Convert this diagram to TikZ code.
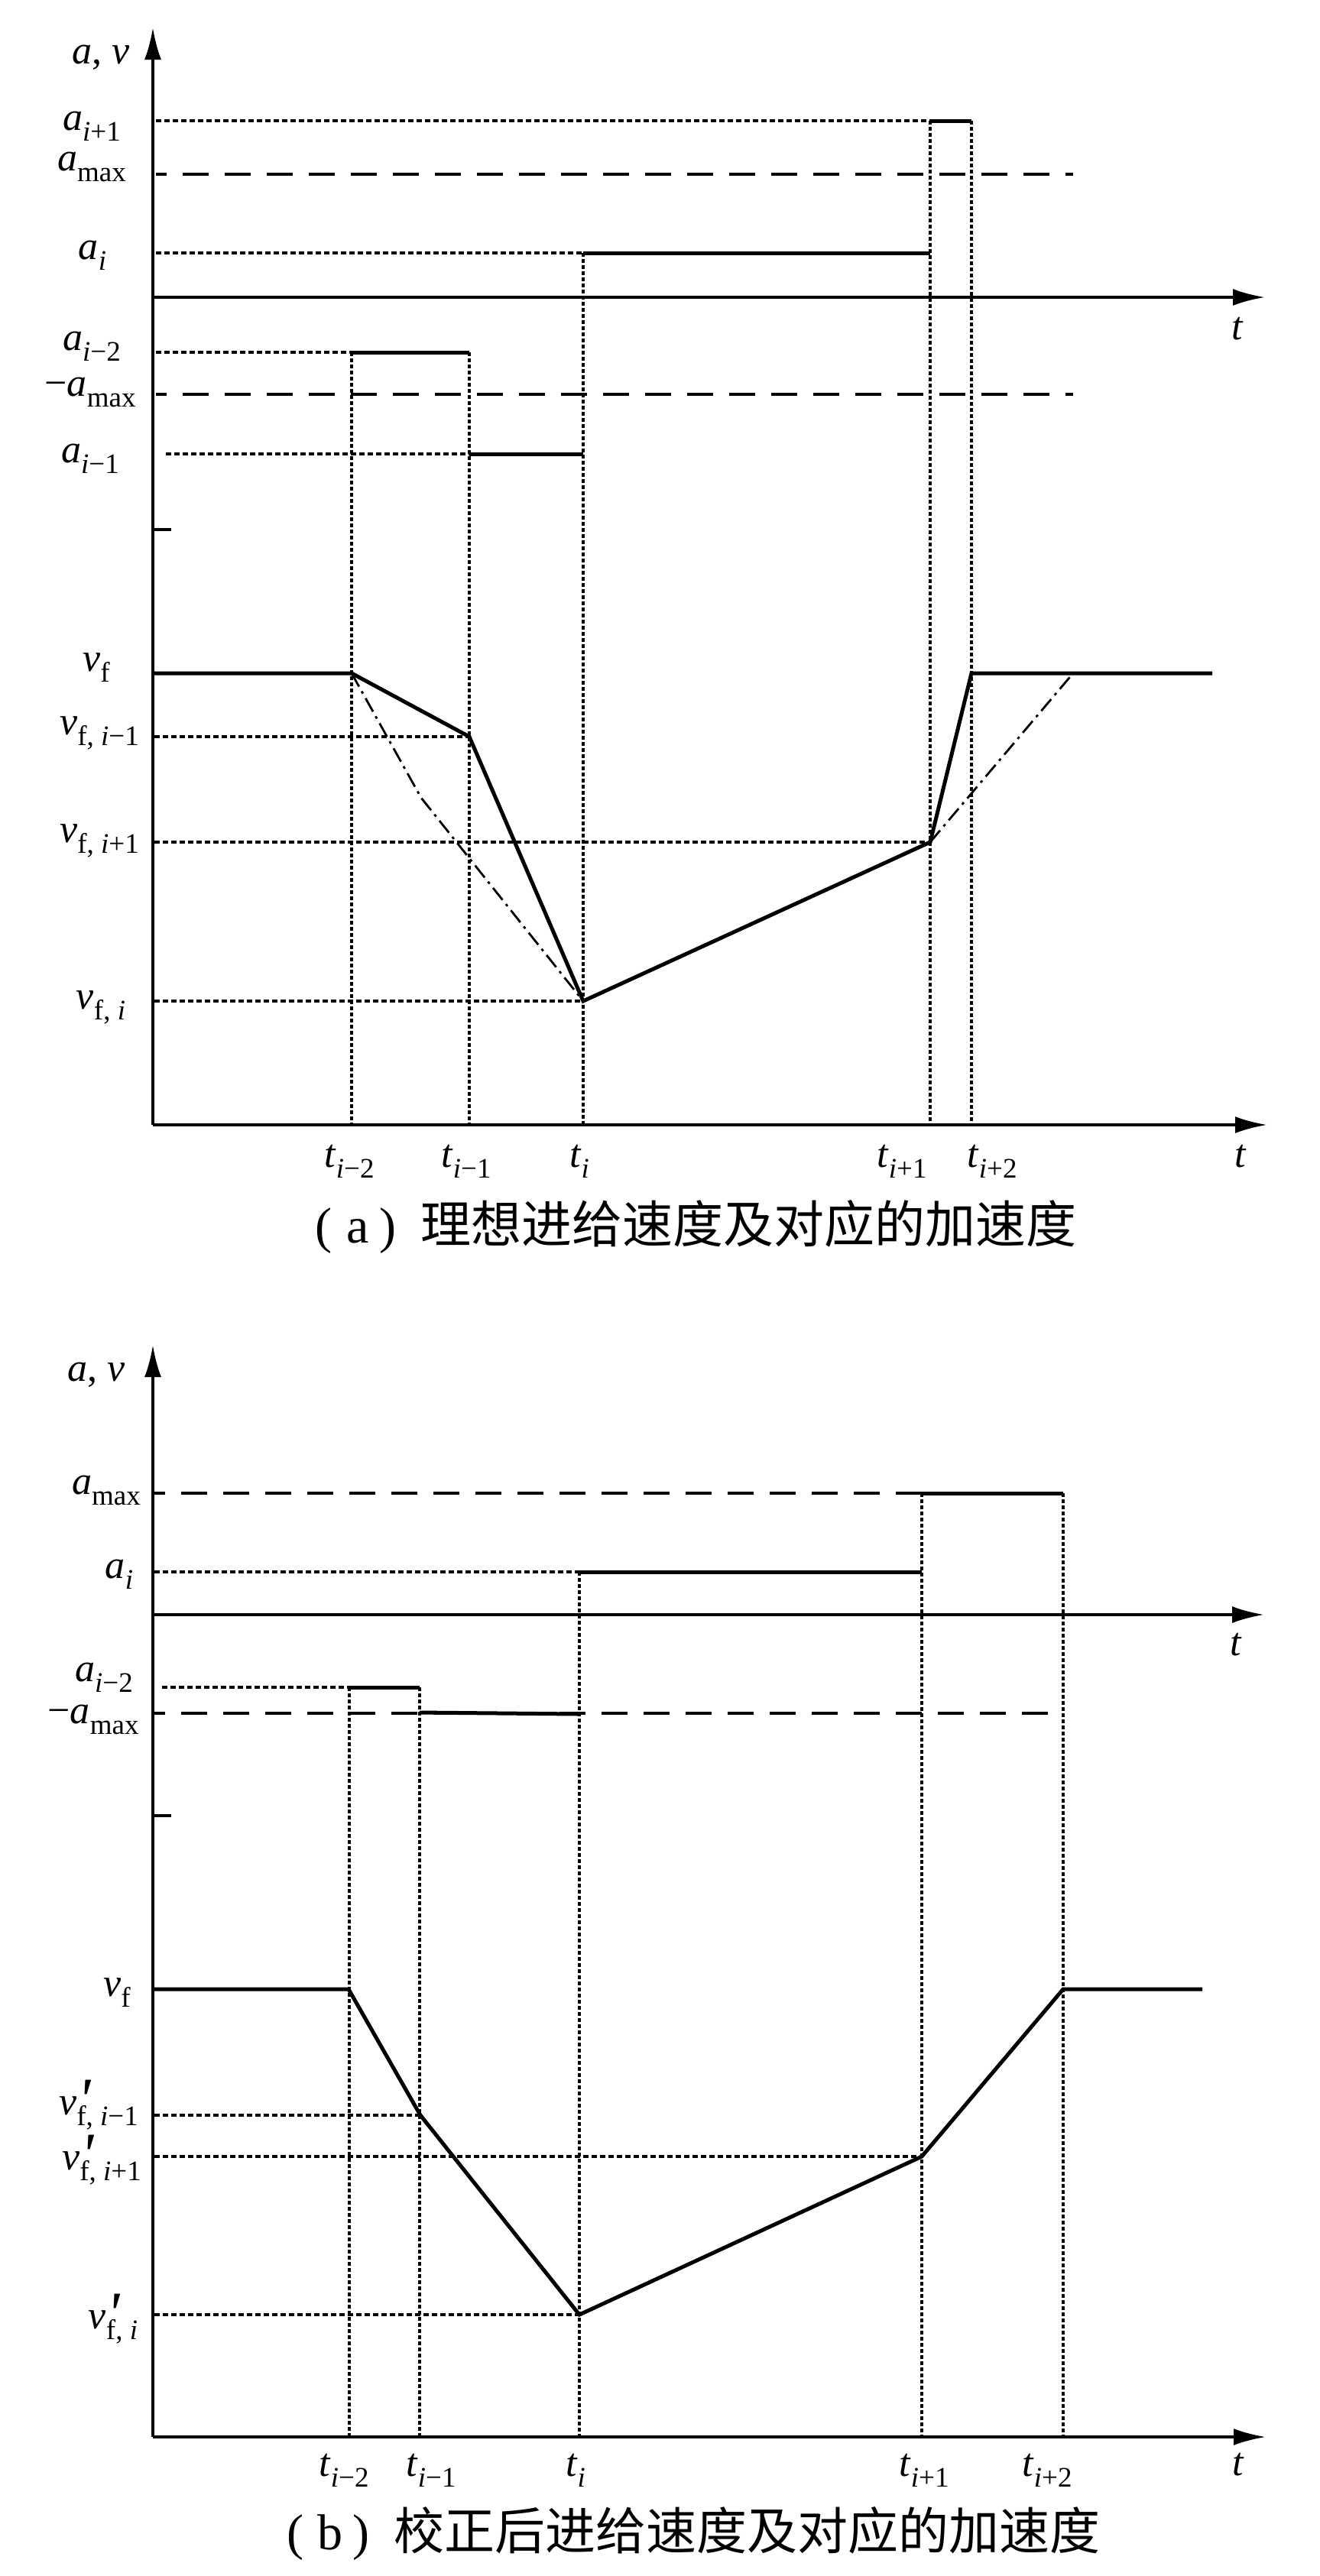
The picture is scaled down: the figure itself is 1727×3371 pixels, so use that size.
\documentclass[tikz,border=0pt]{standalone}
\usepackage{fontspec}
\setmainfont{Liberation Serif}
\newfontfamily\cjk{Noto Sans CJK SC}
\usetikzlibrary{arrows.meta}
\newcommand{\Sb}[1]{\raisebox{-0.28em}{\fontsize{37}{37}\selectfont #1}}
\newcommand{\pmk}{\rlap{\kern1pt\raisebox{-7pt}{\fontsize{80}{80}\selectfont\itshape\textquotesingle}}}
\begin{document}
\begin{tikzpicture}[x=1pt,y=-1pt,
  lbl/.style={inner sep=0pt,anchor=base,font=\fontsize{52}{60}\selectfont},
  captxt/.style={inner sep=0pt,anchor=base west,font=\fontsize{66}{70}\selectfont},
  axis/.style={line width=4pt,-{Latex[length=42pt,width=22pt]}},
  axisl/.style={line width=4pt},
  stepl/.style={line width=5pt},
  velo/.style={line width=5pt,line join=miter},
  vdot/.style={line width=4.4pt,dash pattern=on 4.5pt off 3.5pt},
  hdot/.style={line width=3.2pt,dash pattern=on 7pt off 4pt},
  ldash/.style={line width=4pt,dash pattern=on 34pt off 21pt,dash phase=20pt},
  ddot/.style={line width=2.8pt,dash pattern=on 20pt off 7pt on 3.5pt off 7pt}]
\useasboundingbox (0,0) rectangle (1727,3371);
% ================= panel (a) =================
\coordinate (A0) at (200,1472);
\coordinate (Atop) at (200,36);
\coordinate (AtL) at (200,389);
\coordinate (AtR) at (1655,389);
\coordinate (AbR) at (1658,1472);
\draw[axis] (A0) -- (Atop);
\draw[axis] (AtL) -- (AtR);
\draw[axis] (A0) -- (AbR);
\coordinate (Atk1) at (200,693); \coordinate (Atk2) at (224,693);
\draw[axisl] (Atk1) -- (Atk2);
% acceleration levels
\coordinate (a1L) at (204,158); \coordinate (a1a) at (1217,158); \coordinate (a1b) at (1271,158);
\coordinate (amL) at (204,228); \coordinate (amR) at (1404,228);
\coordinate (aiL) at (204,331); \coordinate (aia) at (763,331); \coordinate (aib) at (1217,331);
\coordinate (a2L) at (204,461); \coordinate (a2a) at (460,461); \coordinate (a2b) at (614,461);
\coordinate (nmL) at (204,516); \coordinate (nmR) at (1404,516);
\coordinate (a3L) at (217,594); \coordinate (a3a) at (614,594); \coordinate (a3b) at (763,594);
\draw[hdot] (a1L) -- (a1a); \draw[stepl] (a1a) -- (a1b);
\draw[ldash] (amL) -- (amR);
\draw[hdot] (aiL) -- (aia); \draw[stepl] (aia) -- (aib);
\draw[hdot] (a2L) -- (a2a); \draw[stepl] (a2a) -- (a2b);
\draw[ldash] (nmL) -- (nmR);
\draw[hdot] (a3L) -- (a3a); \draw[stepl] (a3a) -- (a3b);
% vertical guides
\coordinate (g1b) at (460,1472); \coordinate (g2b) at (614,1472); \coordinate (g3b) at (763,1472);
\coordinate (g4t) at (1217,158); \coordinate (g4b) at (1217,1472);
\coordinate (g5t) at (1271,158); \coordinate (g5b) at (1271,1472);
\draw[vdot] (a2a) -- (g1b);
\draw[vdot] (a2b) -- (g2b);
\draw[vdot] (aia) -- (g3b);
\draw[vdot] (g4t) -- (g4b);
\draw[vdot] (g5t) -- (g5b);
% velocity
\coordinate (v0) at (200,881); \coordinate (v1) at (460,881); \coordinate (v2) at (614,964);
\coordinate (v3) at (763,1310); \coordinate (v4) at (1217,1102); \coordinate (v5) at (1271,881);
\coordinate (v6) at (1586,881);
\coordinate (vk) at (551,1044); \coordinate (vk2) at (1404,881);
\coordinate (h1) at (202,964); \coordinate (h2) at (202,1102); \coordinate (h3) at (202,1310);
\draw[hdot] (h1) -- (v2);
\draw[hdot] (h2) -- (v4);
\draw[hdot] (h3) -- (v3);
\draw[ddot] (v1) -- (vk) -- (v3);
\draw[ddot] (v4) -- (vk2);
\draw[velo] (v0) -- (v1) -- (v2) -- (v3) -- (v4) -- (v5) -- (v6);
% labels
\node[lbl] (Lav) at (132,83) {\textit{a}, \textit{v}};
\node[lbl] (La1) at (120,170) {\textit{a}\Sb{\textit{i}+1}};
\node[lbl] (Lam) at (120,223) {\textit{a}\Sb{max}};
\node[lbl] (Lai) at (121,339) {\textit{a}\Sb{\textit{i}}};
\node[lbl] (La2) at (120,458) {\textit{a}\Sb{\textit{i}−2}};
\node[lbl] (Lnm) at (118,518) {−\textit{a}\Sb{max}};
\node[lbl] (La3) at (118,605) {\textit{a}\Sb{\textit{i}−1}};
\node[lbl] (Lvf) at (126,878) {\textit{v}\Sb{f}};
\node[lbl] (Lv1) at (130,961) {\textit{v}\Sb{f, \textit{i}−1}};
\node[lbl] (Lv2) at (130,1102) {\textit{v}\Sb{f, \textit{i}+1}};
\node[lbl] (Lv3) at (132,1320) {\textit{v}\Sb{f, \textit{i}}};
\node[lbl] (Lt1) at (1619,444) {\textit{t}};
\node[lbl] (Lt2) at (1623,1527) {\textit{t}};
\node[lbl] (Lta) at (457,1527) {\textit{t}\Sb{\textit{i}−2}};
\node[lbl] (Ltb) at (610,1527) {\textit{t}\Sb{\textit{i}−1}};
\node[lbl] (Ltc) at (758,1527) {\textit{t}\Sb{\textit{i}}};
\node[lbl] (Ltd) at (1180,1527) {\textit{t}\Sb{\textit{i}+1}};
\node[lbl] (Lte) at (1298,1527) {\textit{t}\Sb{\textit{i}+2}};
\node[captxt] (Capa) at (412,1626) {(\kern19pt a\kern14pt)\kern32pt{\cjk 理想进给速度及对应的加速度}};
% ================= panel (b) =================
\coordinate (B0) at (200,3189);
\coordinate (Btop) at (200,1760);
\coordinate (BtL) at (200,2113);
\coordinate (BtR) at (1654,2113);
\coordinate (BbR) at (1656,3189);
\draw[axis] (B0) -- (Btop);
\draw[axis] (BtL) -- (BtR);
\draw[axis] (B0) -- (BbR);
\coordinate (Btk1) at (200,2376); \coordinate (Btk2) at (224,2376);
\draw[axisl] (Btk1) -- (Btk2);
\coordinate (bmL) at (202,1954); \coordinate (bma) at (1206,1954); \coordinate (bmb) at (1391,1954);
\coordinate (biL) at (202,2057); \coordinate (bia) at (758,2057); \coordinate (bib) at (1206,2057);
\coordinate (b2L) at (212,2208); \coordinate (b2a) at (457,2208); \coordinate (b2b) at (549,2208);
\coordinate (bnL) at (202,2242); \coordinate (bnR) at (1388,2242);
\coordinate (bna) at (549,2241); \coordinate (bnb) at (758,2243);
\draw[ldash] (bmL) -- (bma); \draw[stepl] (bma) -- (bmb);
\draw[hdot] (biL) -- (bia); \draw[stepl] (bia) -- (bib);
\draw[hdot] (b2L) -- (b2a); \draw[stepl] (b2a) -- (b2b);
\draw[ldash] (bnL) -- (bnR); \draw[stepl] (bna) -- (bnb);
\coordinate (k1b) at (457,3189); \coordinate (k2b) at (549,3189); \coordinate (k3b) at (758,3189);
\coordinate (k4b) at (1206,3189); \coordinate (k5b) at (1391,3189);
\draw[vdot] (b2a) -- (k1b);
\draw[vdot] (b2b) -- (k2b);
\draw[vdot] (bia) -- (k3b);
\draw[vdot] (bma) -- (k4b);
\draw[vdot] (bmb) -- (k5b);
\coordinate (w0) at (200,2603); \coordinate (w1) at (456,2603); \coordinate (w2) at (550,2768);
\coordinate (w3) at (758,3029); \coordinate (w4) at (1206,2822); \coordinate (w5) at (1391,2603);
\coordinate (w6) at (1573,2603);
\coordinate (m1) at (202,2768); \coordinate (m2) at (202,2822); \coordinate (m3) at (202,3029);
\draw[hdot] (m1) -- (w2);
\draw[hdot] (m2) -- (w4);
\draw[hdot] (m3) -- (w3);
\draw[velo] (w0) -- (w1) -- (w2) -- (w3) -- (w4) -- (w5) -- (w6);
\node[lbl] (Mav) at (126,1807) {\textit{a}, \textit{v}};
\node[lbl] (Mam) at (139,1955) {\textit{a}\Sb{max}};
\node[lbl] (Mai) at (156,2065) {\textit{a}\Sb{\textit{i}}};
\node[lbl] (Ma2) at (136,2200) {\textit{a}\Sb{\textit{i}−2}};
\node[lbl] (Mnm) at (122,2255) {−\textit{a}\Sb{max}};
\node[lbl] (Mvf) at (153,2612) {\textit{v}\Sb{f}};
\node[lbl] (Mv1) at (129,2767) {\textit{v}\pmk\Sb{f, \textit{i}−1}};
\node[lbl] (Mv2) at (133,2839) {\textit{v}\pmk\Sb{f, \textit{i}+1}};
\node[lbl] (Mv3) at (148,3047) {\textit{v}\pmk\Sb{f, \textit{i}}};
\node[lbl] (Mt1) at (1617,2166) {\textit{t}};
\node[lbl] (Mt2) at (1620,3239) {\textit{t}};
\node[lbl] (Mta) at (450,3240) {\textit{t}\Sb{\textit{i}−2}};
\node[lbl] (Mtb) at (564,3240) {\textit{t}\Sb{\textit{i}−1}};
\node[lbl] (Mtc) at (753,3240) {\textit{t}\Sb{\textit{i}}};
\node[lbl] (Mtd) at (1209,3240) {\textit{t}\Sb{\textit{i}+1}};
\node[lbl] (Mte) at (1370,3240) {\textit{t}\Sb{\textit{i}+2}};
\node[captxt] (Capb) at (375,3336) {(\kern18pt b\kern13pt)\kern32pt{\cjk 校正后进给速度及对应的加速度}};
\end{tikzpicture}
\end{document}
